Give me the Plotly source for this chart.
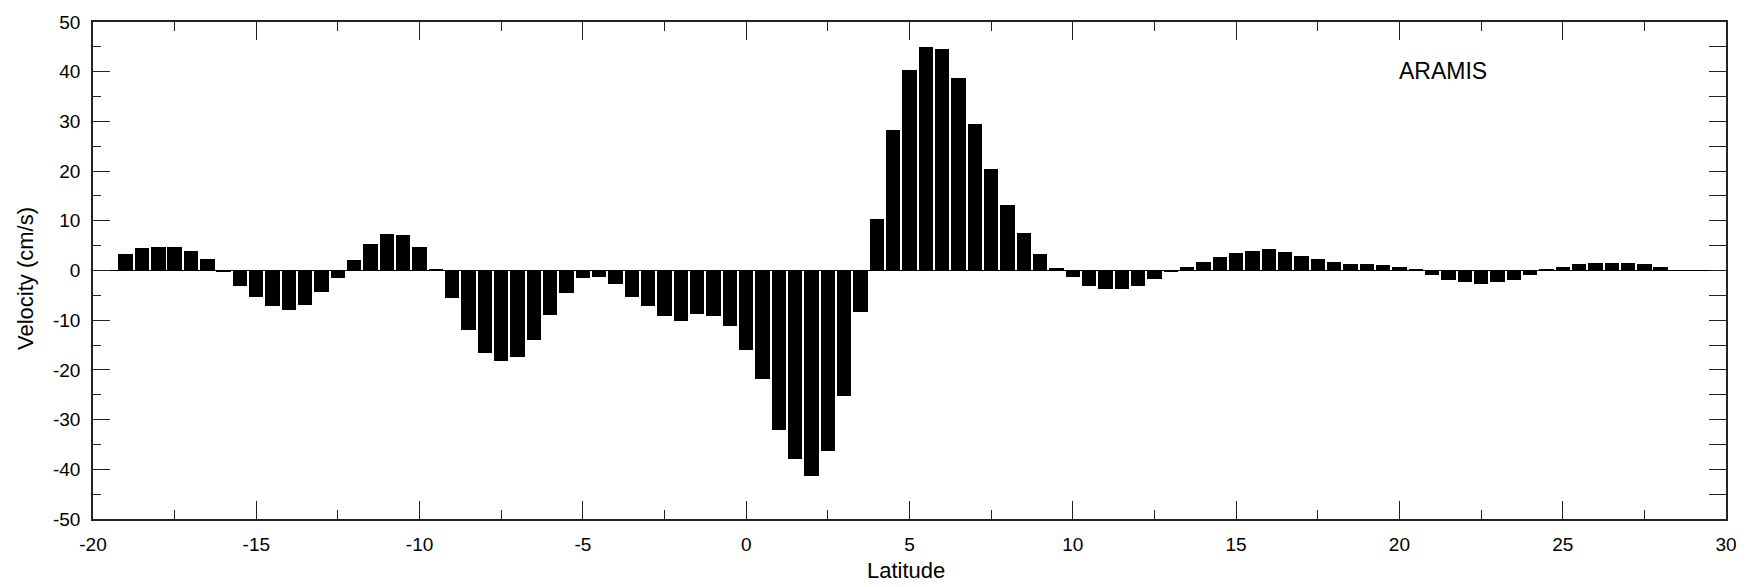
import plotly.graph_objects as go

latitude = [
    -19.0, -18.5, -18.0, -17.5, -17.0, -16.5, -16.0, -15.5, -15.0, -14.5,
    -14.0, -13.5, -13.0, -12.5, -12.0, -11.5, -11.0, -10.5, -10.0, -9.5,
    -9.0, -8.5, -8.0, -7.5, -7.0, -6.5, -6.0, -5.5, -5.0, -4.5,
    -4.0, -3.5, -3.0, -2.5, -2.0, -1.5, -1.0, -0.5, 0.0, 0.5,
    1.0, 1.5, 2.0, 2.5, 3.0, 3.5, 4.0, 4.5, 5.0, 5.5,
    6.0, 6.5, 7.0, 7.5, 8.0, 8.5, 9.0, 9.5, 10.0, 10.5,
    11.0, 11.5, 12.0, 12.5, 13.0, 13.5, 14.0, 14.5, 15.0, 15.5,
    16.0, 16.5, 17.0, 17.5, 18.0, 18.5, 19.0, 19.5, 20.0, 20.5,
    21.0, 21.5, 22.0, 22.5, 23.0, 23.5, 24.0, 24.5, 25.0, 25.5,
    26.0, 26.5, 27.0, 27.5, 28.0,
]

velocity = [
    3.3, 4.6, 4.8, 4.8, 4.0, 2.3, -0.3, -3.2, -5.4, -7.2,
    -8.0, -7.0, -4.4, -1.6, 2.1, 5.4, 7.4, 7.1, 4.8, 0.3,
    -5.6, -11.9, -16.5, -18.2, -17.4, -13.9, -9.0, -4.6, -1.6, -1.4,
    -2.7, -5.4, -7.2, -9.2, -10.1, -8.7, -9.2, -11.1, -16.0, -21.8,
    -32.0, -38.0, -41.3, -36.3, -25.3, -8.4, 10.3, 28.2, 40.3, 45.0,
    44.6, 38.7, 29.4, 20.5, 13.1, 7.6, 3.4, 0.5, -1.4, -3.2,
    -3.8, -3.8, -3.2, -1.7, -0.4, 0.8, 1.8, 2.8, 3.5, 4.0,
    4.3, 3.8, 3.0, 2.3, 1.8, 1.3, 1.3, 1.1, 0.8, 0.3,
    -0.9, -1.9, -2.4, -2.7, -2.4, -1.9, -0.9, 0.3, 0.8, 1.3,
    1.6, 1.6, 1.6, 1.3, 0.8,
]

x_ticks = [-20, -15, -10, -5, 0, 5, 10, 15, 20, 25, 30]
x_tick_text = ["-20", "-15", "-10", "-5", "0", "5", "10", "15", "20", "25", "30"]
y_ticks = [-50, -40, -30, -20, -10, 0, 10, 20, 30, 40, 50]
y_tick_text = ["-50", "-40", "-30", "-20", "-10", "0", "10", "20", "30", "40", "50"]

FONT = "Liberation Sans, Arial, Helvetica, sans-serif"
AXC = "#222222"

fig = go.Figure()
fig.add_trace(go.Bar(
    x=latitude, y=velocity, width=0.44,
    marker=dict(color="black", line=dict(width=0)),
    showlegend=False, hoverinfo="x+y",
))
# invisible trace to activate the right-hand tick axis
fig.add_trace(go.Scatter(x=[latitude[0]], y=[0], yaxis="y2", mode="markers",
                         marker=dict(opacity=0), showlegend=False, hoverinfo="skip"))

fig.update_layout(
    width=1751, height=587,
    margin=dict(l=93, r=25, t=17, b=68),
    paper_bgcolor="white", plot_bgcolor="white",
    font=dict(family=FONT, size=19, color="black"),
    bargap=0,
    xaxis=dict(
        range=[-20, 30], tickvals=x_ticks, ticktext=x_tick_text,
        ticks="inside", ticklen=18, tickwidth=1,
        tickcolor=AXC, showline=True, linecolor=AXC, linewidth=1.5, mirror="ticks",
        showgrid=False, zeroline=False, ticklabelstandoff=7,
        minor=dict(dtick=2.5, tick0=0, ticks="inside", ticklen=9, tickwidth=1,
                   tickcolor=AXC, showgrid=False),
        tickfont=dict(size=19, family=FONT, color="black"),
    ),
    yaxis=dict(
        range=[-50, 50], tickvals=y_ticks, ticktext=y_tick_text,
        ticks="inside", ticklen=17, tickwidth=1,
        tickcolor=AXC, showline=True, linecolor=AXC, linewidth=1.5, mirror=False,
        showgrid=False, zeroline=True, zerolinecolor="black", zerolinewidth=1,
        ticklabelstandoff=7,
        minor=dict(dtick=5, tick0=0, ticks="inside", ticklen=8, tickwidth=1,
                   tickcolor=AXC, showgrid=False),
        tickfont=dict(size=19, family=FONT, color="black"),
    ),
    yaxis2=dict(
        range=[-50, 50], overlaying="y", side="right", anchor="x",
        dtick=5, tick0=0, ticks="inside", ticklen=17, tickwidth=1, tickcolor=AXC,
        showticklabels=False, showline=True, linecolor=AXC, linewidth=1.5,
        showgrid=False, zeroline=False,
    ),
    annotations=[
        dict(text="Velocity (cm/s)", xref="paper", yref="paper", x=-0.041, y=0.483,
             textangle=-90, showarrow=False, xanchor="center", yanchor="middle",
             font=dict(size=22, family=FONT, color="black")),
        dict(text="Latitude", xref="paper", yref="paper", x=0.498, y=-0.104,
             showarrow=False, xanchor="center", yanchor="middle",
             font=dict(size=22, family=FONT, color="black")),
        dict(text="ARAMIS", xref="paper", yref="paper", x=0.827, y=0.902,
             showarrow=False, xanchor="center", yanchor="middle",
             font=dict(size=23, family=FONT, color="black")),
    ],
)

fig.write_html("out.html")
